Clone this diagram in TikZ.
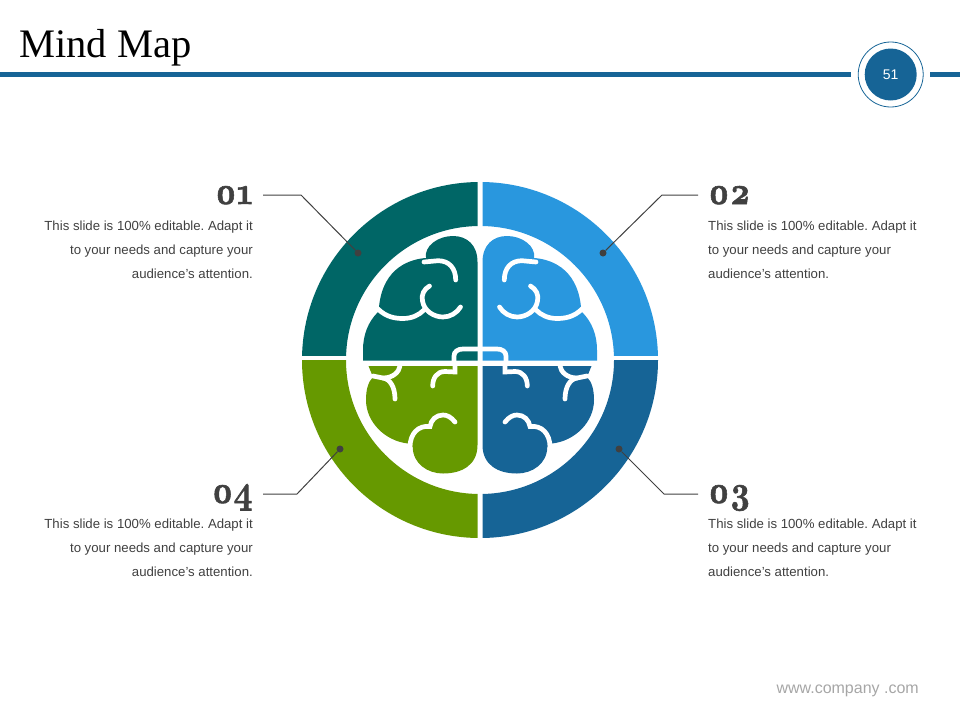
\documentclass[tikz,border=0pt]{standalone}
\usepackage{fontspec}
\setmainfont{Liberation Sans}
\newfontfamily\titlefont{Liberation Serif}
\newfontfamily\numfont[Extension=.otf, Numbers=OldStyle, FakeBold=1.6]{lmroman10-bold}
\usetikzlibrary{positioning}

\definecolor{tealc}{HTML}{006666}
\definecolor{bluec}{HTML}{2997DE}
\definecolor{navyc}{HTML}{166496}
\definecolor{greenc}{HTML}{669900}
\definecolor{darkc}{HTML}{404040}
\definecolor{footc}{HTML}{A6A6A6}

% one half of the brain, in the coordinates of the left side
\newcommand{\brainhalf}[2]{
  \fill[#1] (477.5,360.7) -- (477.5,262) .. controls (477.5,245) and (467,236) .. (453,236)
    .. controls (438,236) and (424,246) .. (426,258) .. controls (412,259) and (383,266) .. (379,307)
    -- (378,312) .. controls (368,322) and (363,335) .. (363,350) -- (363,360.7) -- cycle;
  \fill[#2] (477.5,366) -- (368.5,366) -- (373,377) .. controls (368,382) and (366,390) .. (366,400)
    .. controls (366,422) and (385,441) .. (408,443.5) -- (412.7,447)
    .. controls (413,464) and (428,473.5) .. (443,473.5) .. controls (462,473.5) and (477.5,465) .. (477.5,445) -- cycle;
  % folds
  \draw[fold] (424,262) -- (438,260.7) .. controls (449,260.7) and (455.7,268) .. (455.7,280);
  \draw[fold] (378,309) .. controls (386,317) and (395,318.5) .. (403,318.5) .. controls (412,318.5) and (419,315) .. (424,310);
  \draw[fold] (429.5,286) .. controls (424,289) and (421,295) .. (422.5,301) .. controls (424,311) and (434,317) .. (443,317) .. controls (450,317) and (457,313) .. (460.5,307);
  \draw[fold] (454,361) -- (454,356) .. controls (454,351.5) and (458,349) .. (463,349) -- (480,349);
  \draw[fold] (455,366) -- (455,372) -- (445,371.5) .. controls (437,371.5) and (432.7,378) .. (432.7,386);
  \draw[fold] (455,422) .. controls (451,417) and (447,415) .. (443,415) .. controls (436,415) and (431,420) .. (430,426.5) .. controls (418,425) and (410,434) .. (410,447);
  \draw[fold] (400,366) .. controls (399,372) and (393,378) .. (383,378) -- (373,376);
  \draw[fold] (383,378) .. controls (390,379) and (395,387) .. (395,399);
}

\begin{document}
\frenchspacing
\begin{tikzpicture}[
      x=1pt, y=-1pt,
      fold/.style={white, line width=4.7pt, line cap=round},
      numlabel/.style={inner sep=0pt, text=darkc, font=\numfont\fontsize{39}{39}\selectfont},
      bodytext/.style={inner sep=0pt, text=darkc, font=\fontsize{13.2}{24}\selectfont},
      dot/.style={circle, fill=darkc, inner sep=0pt, minimum size=7pt},
      leader/.style={darkc, line width=1pt}
    ]
    \useasboundingbox (0,0) rectangle (960,720);

    % Header
    \node[anchor=base west, inner sep=0pt, font=\titlefont\fontsize{40.5}{40}\selectfont] (title) at (19,57) {Mind Map};
    \node[circle, draw=navyc, line width=0.8pt, minimum size=65pt, inner sep=0pt] (pagering) at (890.7,74.5) {};
    \node[circle, fill=navyc, minimum size=52pt, inner sep=0pt, text=white, font=\fontsize{14}{14}\selectfont] (page) at (890.7,74.5) {51};
    \coordinate (barleft) at (0,74.5);
    \coordinate (barright) at (960,74.5);
    \draw[navyc, line width=5pt] (barleft) -- (851,74.5);
    \draw[navyc, line width=5pt] (930,74.5) -- (barright);

    % Ring
    \foreach \col/\xa/\ya/\xb/\yb in {tealc/300/178/477.5/355.7, bluec/482.5/178/660/355.7, greenc/300/360.7/477.5/540, navyc/482.5/360.7/660/540} {
      \begin{scope}
        \clip (\xa,\ya) rectangle (\xb,\yb);
        \fill[\col, even odd rule] (480,360) circle (178pt) (480,360) circle (134pt);
      \end{scope}
    }

    % Brain
    \brainhalf{tealc}{greenc}
    \begin{scope}[xshift=960pt, xscale=-1]
      \brainhalf{bluec}{navyc}
    \end{scope}

    % Numbers
    \node[numlabel, anchor=base east] (num1) at (253,204) {\scalebox{0.84}[1]{01}};
    \node[numlabel, anchor=base west] (num2) at (708,204) {\scalebox{0.84}[1]{02}};
    \node[numlabel, anchor=base west] (num3) at (708,503) {\scalebox{0.84}[1]{03}};
    \node[numlabel, anchor=base east] (num4) at (253,503) {\scalebox{0.84}[1]{04}};

    % Texts
    \node[bodytext, align=right, anchor=north east] (text1) at (253,221) {This slide is 100\% editable. Adapt it\\to your needs and capture your\\audience's attention.};
    \node[bodytext, align=left, anchor=north west] (text2) at (708,221) {This slide is 100\% editable. Adapt it\\to your needs and capture your\\audience's attention.};
    \node[bodytext, align=left, anchor=north west] (text3) at (708,519) {This slide is 100\% editable. Adapt it\\to your needs and capture your\\audience's attention.};
    \node[bodytext, align=right, anchor=north east] (text4) at (253,519) {This slide is 100\% editable. Adapt it\\to your needs and capture your\\audience's attention.};

    % Leaders
    \node[dot] (dot1) at (358,253) {};
    \node[dot] (dot2) at (603,253) {};
    \node[dot] (dot3) at (619,449) {};
    \node[dot] (dot4) at (340,449) {};
    \coordinate (lead1) at (263,195);
    \coordinate (lead2) at (698,195);
    \coordinate (lead3) at (698,494);
    \coordinate (lead4) at (263,494);
    \draw[leader] (lead1) -- (301,195) -- (dot1);
    \draw[leader] (lead2) -- (662,195) -- (dot2);
    \draw[leader] (lead3) -- (664,494) -- (dot3);
    \draw[leader] (lead4) -- (297,494) -- (dot4);

    % Footer
    \node[anchor=base east, inner sep=0pt, text=footc, font=\fontsize{16}{16}\selectfont] (footer) at (919,693) {www.company .com};

\end{tikzpicture}
\end{document}
